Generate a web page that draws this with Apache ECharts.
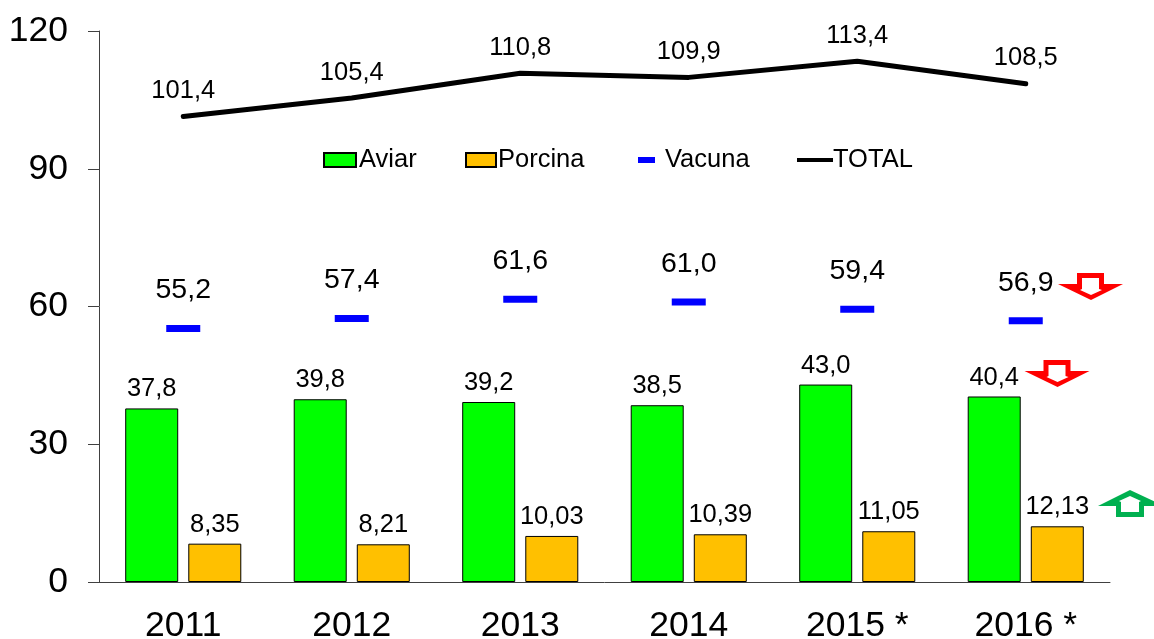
<!DOCTYPE html>
<html>
<head>
<meta charset="utf-8">
<title>Aviar Porcina Vacuna</title>
<script src="https://cdn.jsdelivr.net/npm/echarts@6/dist/echarts.min.js"></script>
<style>
    html, body { margin: 0; padding: 0; background: #fff; }
    #Root { width: 1154px; height: 639px; }
</style>
</head>
<body>
<div id="Root"></div>
<script>
let Years = ["2011", "2012", "2013", "2014", "2015 *", "2016 *"]
let Aviar = [37.8, 39.8, 39.2, 38.5, 43.0, 40.4]
let Porcina = [8.35, 8.21, 10.03, 10.39, 11.05, 12.13]
let Vacuna = [55.2, 57.4, 61.6, 61.0, 59.4, 56.9]
let Total = [101.4, 105.4, 110.8, 109.9, 113.4, 108.5]
let YTicks = [0, 30, 60, 90, 120]

let FontName = "Liberation Sans, Arial, sans-serif"
let AxisColor = "#404040"

// decimal comma, as in the source
function Label(digits) {
    return function (params) {
        return params.value.toFixed(digits).replace(".", ",")
    }
}

// one legend per item, the gaps in the source are not even
function LegendItem(name, left, top, w, h, textLeft) {
    return {
        data: [name],
        left: left,
        top: top,
        icon: "rect",
        itemWidth: w,
        itemHeight: h,
        itemGap: 0,
        padding: 0,
        selectedMode: false,
        textStyle: { fontFamily: FontName, fontSize: 25.5, color: "#000", padding: [3, 0, 0, textLeft] }
    }
}

// block arrow: coloured outer shape with a white inner shape
function Arrow(color, outer, inner) {
    return [
        { type: "polygon", z: 100, shape: { points: outer }, style: { fill: color } },
        { type: "polygon", z: 101, shape: { points: inner }, style: { fill: "#fff" } }
    ]
}
function DownArrow(dx, dy) {
    let move = function (p) { return [p[0] + dx, p[1] + dy] }
    return Arrow("#ff0000",
        [[1077, 273], [1104, 273], [1104, 284], [1123, 284], [1091, 300], [1058, 284], [1077, 284]].map(move),
        [[1082, 278], [1099, 278], [1099, 289], [1102, 290], [1091, 295], [1080, 290], [1082, 289]].map(move))
}
let Arrows = DownArrow(0, 0).concat(DownArrow(-33.5, 87)).concat(Arrow("#00b050",
    [[1130, 490], [1164, 506], [1144, 506], [1144, 517], [1116, 517], [1116, 506], [1098, 506]],
    [[1130, 496], [1141, 501], [1139, 502], [1139, 512], [1121, 512], [1121, 502], [1119, 501]]))

let chart = echarts.init(document.getElementById("Root"), null, { renderer: "canvas" })

chart.setOption({
    animation: false,
    backgroundColor: "#fff",
    grid: { left: 99, right: 44, top: 31, bottom: 57, outerBoundsMode: "none" },
    legend: [
        LegendItem("Aviar", 323, 147, 32, 14, -2),
        LegendItem("Porcina", 465, 147, 30, 14, -3),
        LegendItem("Vacuna", 638, 147, 17, 6, 5),
        LegendItem("TOTAL", 797, 147, 36, 4, -5)
    ],
    xAxis: {
        type: "category",
        data: Years,
        axisLine: { lineStyle: { color: AxisColor, width: 1 } },
        axisTick: { length: 10, lineStyle: { color: AxisColor, width: 1 } },
        axisLabel: { fontFamily: FontName, fontSize: 35.5, color: "#000", margin: 26 }
    },
    yAxis: {
        type: "value",
        min: YTicks[0],
        max: YTicks[4],
        interval: YTicks[1],
        splitLine: { show: false },
        axisLine: { show: true, lineStyle: { color: AxisColor, width: 1 } },
        axisTick: { show: true, length: 11, lineStyle: { color: AxisColor, width: 1 } },
        axisLabel: { fontFamily: FontName, fontSize: 35.5, color: "#000", margin: 31 }
    },
    series: [
        {
            name: "Aviar",
            type: "bar",
            data: Aviar,
            barWidth: 53,
            barGap: "19%",
            itemStyle: { color: "#00ff00", borderColor: "#000", borderWidth: 1 },
            label: { show: true, position: "top", distance: 6, formatter: Label(1), fontFamily: FontName, fontSize: 25.5, color: "#000" }
        },
        {
            name: "Porcina",
            type: "bar",
            data: Porcina,
            barWidth: 53,
            itemStyle: { color: "#ffc000", borderColor: "#000", borderWidth: 1 },
            label: { show: true, position: "top", distance: 6, formatter: Label(2), fontFamily: FontName, fontSize: 25.5, color: "#000" }
        },
        {
            name: "Vacuna",
            type: "line",
            data: Vacuna,
            itemStyle: { color: "#0000ff" },
            lineStyle: { width: 0 },
            symbol: "rect",
            symbolSize: [34, 7],
            label: { show: true, position: "top", distance: 20, formatter: Label(1), fontFamily: FontName, fontSize: 28.5, color: "#000" }
        },
        {
            name: "TOTAL",
            type: "line",
            data: Total,
            // a tiny symbol, labels are dropped with symbol none
            symbol: "circle",
            symbolSize: 1,
            showSymbol: true,
            itemStyle: { color: "#000" },
            lineStyle: { color: "#000", width: 5, cap: "round", join: "round" },
            label: { show: true, position: "top", distance: 12, formatter: Label(1), fontFamily: FontName, fontSize: 25.5, color: "#000" }
        }
    ],
    graphic: Arrows
})
</script>
</body>
</html>
